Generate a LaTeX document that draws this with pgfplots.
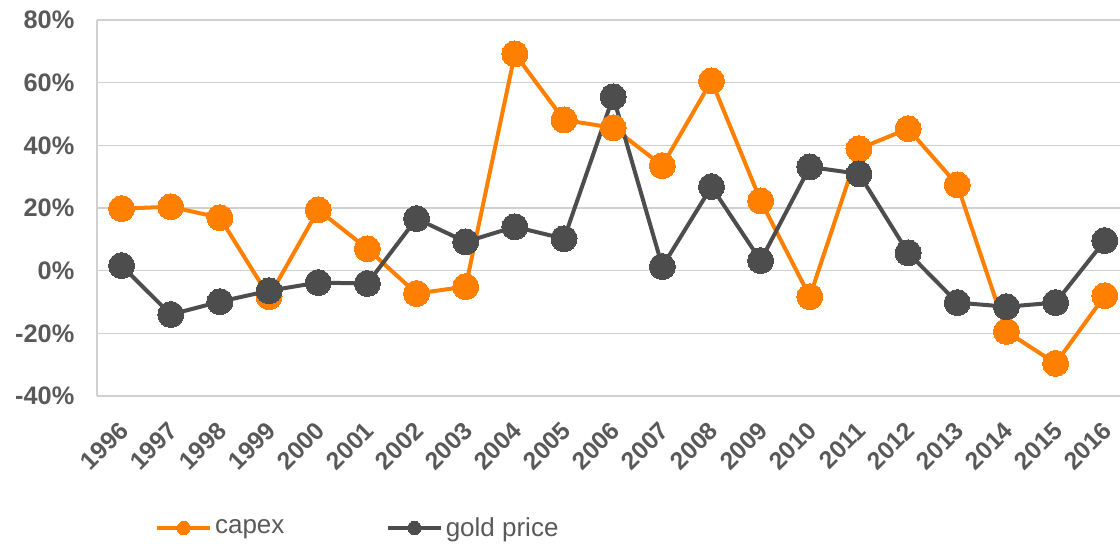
\documentclass[border=0pt]{standalone}
\usepackage{pgfplots}
\pgfplotsset{compat=1.18}
\usepackage{fontspec}
\setmainfont{Liberation Sans}
\definecolor{corange}{HTML}{FF8000}
\definecolor{cdark}{HTML}{4D4D4D}
\definecolor{ctext}{HTML}{595959}
\definecolor{cgrid}{HTML}{D0D0D0}
\begin{document}
\begin{tikzpicture}
\path[use as bounding box] (-72.75pt,-110.25pt) rectangle (767.25pt,297pt);
\begin{axis}[
  at={(0,0)}, anchor=south west,
  scale only axis, width=767.25pt, height=282pt,
  xmin=-0.5, xmax=20.31, ymin=-40, ymax=80,
  xtick={0,...,20},
  xticklabels={1996,1997,1998,1999,2000,2001,2002,2003,2004,2005,2006,2007,2008,2009,2010,2011,2012,2013,2014,2015,2016},
  ytick={-40,-20,0,20,40,60,80},
  yticklabel={\pgfmathprintnumber{\tick}\%},
  /pgf/number format/assume math mode=true,
  ticklabel style={text=ctext},
  xticklabel style={font=\fontsize{18.5}{20}\selectfont\bfseries, xshift=-3pt, yshift=-15pt, rotate=45, anchor=north east, inner sep=2pt},
  yticklabel style={font=\fontsize{19}{21}\selectfont\bfseries, xshift=-13.5pt},
  major tick length=0pt,
  ymajorgrids, grid style={cgrid, line width=1.2pt},
  axis line style={draw=none},
  clip=false,
  legend columns=2,
  legend style={draw=none, fill=none, at={(0.0565,-0.351)}, anchor=west, inner sep=0pt,
    font=\fontsize{19.5}{21}\selectfont, text=ctext,
    /tikz/every even column/.append style={column sep=74pt}},
  legend image code/.code={\draw[#1, mark size=5pt, mark repeat=2, mark phase=2] plot coordinates {(0pt,0pt) (20pt,0pt) (40pt,0pt)};},
]
\draw[cgrid, line width=1.5pt] (rel axis cs:0,0) -- (rel axis cs:0,1);
\addplot[corange, line width=3pt, mark=*, mark size=9.75pt, mark options={fill=corange, draw=corange, line width=0pt}] coordinates {
(0,19.8) (1,20.4) (2,16.9) (3,-8.3) (4,19.4) (5,7.0) (6,-7.3) (7,-5.1) (8,69.2) (9,48.1) (10,45.6) (11,33.5) (12,60.6) (13,22.3) (14,-8.3) (15,38.9) (16,45.3) (17,27.4) (18,-19.4) (19,-29.6) (20,-8.0)};
\addlegendentry{capex}
\addplot[cdark, line width=3pt, mark=*, mark size=9.75pt, mark options={fill=cdark, draw=cdark, line width=0pt}] coordinates {
(0,1.6) (1,-14.0) (2,-9.9) (3,-6.4) (4,-3.8) (5,-4.1) (6,16.6) (7,9.2) (8,14.0) (9,10.2) (10,55.5) (11,1.3) (12,26.8) (13,3.2) (14,33.1) (15,30.9) (16,5.7) (17,-10.2) (18,-11.5) (19,-10.2) (20,9.6)};
\addlegendentry{gold price}
\end{axis}
\end{tikzpicture}
\end{document}
